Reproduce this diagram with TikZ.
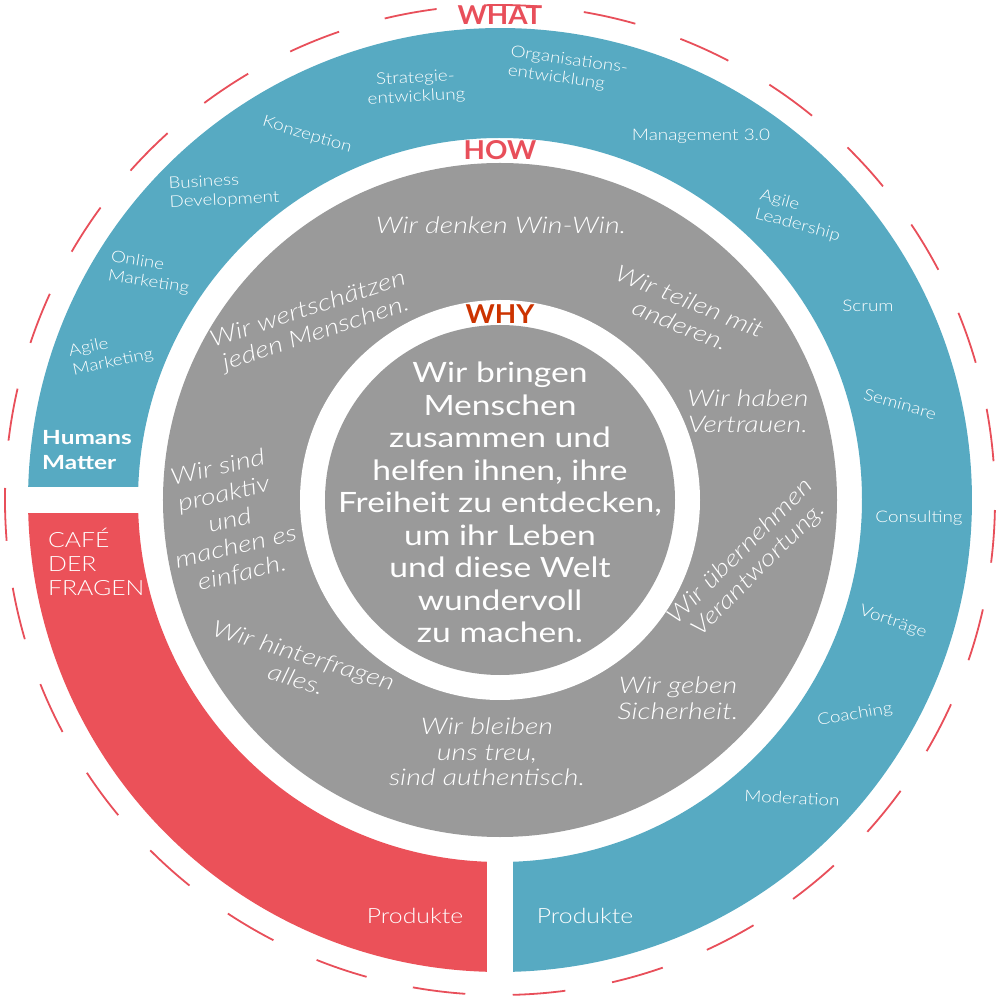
\documentclass[tikz,border=0pt]{standalone}
\usepackage{fontspec}
\setmainfont{Lato}
\newfontfamily\lightf{Lato Light}[FakeStretch=1.18]
\newfontfamily\grayf{Lato Light Italic}[FakeStretch=1.24]
\newfontfamily\centerf{Lato}[FakeStretch=1.2]
\newfontfamily\humansf{Lato Bold}[FakeStretch=1.25]
\newfontfamily\headf{Lato Bold}[FakeStretch=1.07]
\definecolor{wblue}{HTML}{57AAC2}
\definecolor{wred}{HTML}{EB5159}
\definecolor{wgray}{HTML}{9A9A9A}
\definecolor{wlabel}{HTML}{E84F5A}
\definecolor{wwhy}{HTML}{CC3300}
\begin{document}
\begin{tikzpicture}[x=1pt,y=1pt,
  bluelbl/.style={text=white,font=\lightf\fontsize{16}{19}\selectfont,inner sep=0pt},
  graylbl/.style={text=white,font=\grayf\fontsize{23}{25.5}\selectfont,align=center,inner sep=0pt},
  headlbl/.style={font=\headf\fontsize{26}{26}\selectfont,inner sep=0pt,anchor=base},
  prodlbl/.style={text=white,font=\lightf\fontsize{21}{21}\selectfont,inner sep=0pt}]
\useasboundingbox (-500,-500) rectangle (500,500);
% rings
\fill[wblue] (-88.42:472) arc[start angle=-88.42, end angle=178.42, radius=472]
  -- (177.94:362) arc[start angle=177.94, end angle=-87.94, radius=362] -- cycle;
\fill[wred] (181.58:472) arc[start angle=181.58, end angle=268.42, radius=472]
  -- (267.94:362) arc[start angle=267.94, end angle=182.06, radius=362] -- cycle;
\fill[wgray] (0,0) circle (337);
\fill[white] (0,0) circle (200);
\fill[wgray] (0,0) circle (175);
\draw[wlabel, line width=1.8pt, dash pattern=on 52.8pt off 47.5pt, dash phase=61.5pt] (0,0) circle (495);
% headings
\node[headlbl,text=wlabel] (what) at (0,475) {WHAT};
\node[headlbl,text=wlabel] (how) at (0,340) {HOW};
\node[headlbl,text=wwhy] (why) at (0,176.7) {WHY};
% center
\node[text=white,font=\centerf\fontsize{28}{32.5}\selectfont,align=center,inner sep=0pt,anchor=north] (whytext) at (0,138)
  {Wir bringen\\Menschen\\zusammen und\\helfen ihnen, ihre\\Freiheit zu entdecken,\\um ihr Leben\\und diese Welt\\wundervoll\\zu machen.};
% blue ring labels
\node[bluelbl,align=left,rotate=12] (agmk) at (-389,147) {Agile\\Marketing};
\node[bluelbl,align=left,rotate=-9] (onmk) at (-350,227) {Online\\Marketing};
\node[bluelbl,align=left,rotate=3] (busdev) at (-276,309) {Business\\Development};
\node[bluelbl,rotate=-17] (konz) at (-193,365) {Konzeption};
\node[bluelbl,align=center,rotate=3] (strat) at (-84,412) {Strategie-\\entwicklung};
\node[bluelbl,align=left,rotate=-8] (orga) at (68,430) {Organisations-\\entwicklung};
\node[bluelbl] (mgmt) at (201,364) {Management 3.0};
\node[bluelbl,align=left,rotate=-15] (agld) at (300,284) {Agile\\Leadership};
\node[bluelbl] (scrum) at (368,194) {Scrum};
\node[bluelbl,rotate=-16] (semi) at (400,96) {Seminare};
\node[bluelbl] (cons) at (419,-18) {Consulting};
\node[bluelbl,rotate=-19] (vort) at (393,-122) {Vorträge};
\node[bluelbl,rotate=10] (coach) at (355,-215) {Coaching};
\node[bluelbl,rotate=-3] (mod) at (292,-298) {Moderation};
\node[prodlbl] (prodb) at (85,-416) {Produkte};
\node[prodlbl] (prodr) at (-85,-416) {Produkte};
\node[text=white,font=\humansf\fontsize{19.5}{25}\selectfont,align=left,inner sep=0pt,anchor=north west] (hm) at (-458,70) {Humans\\Matter};
\node[text=white,font=\lightf\fontsize{21}{24}\selectfont,align=left,inner sep=0pt,anchor=north west] (cafe) at (-452,-28) {CAFÉ\\DER\\FRAGEN};
% gray ring labels
\node[graylbl] (g1) at (1,275) {Wir denken Win-Win.};
\node[graylbl,rotate=-22] (g2) at (185,187) {Wir teilen mit\\anderen.};
\node[graylbl] (g3) at (248,89) {Wir haben\\Vertrauen.};
\node[graylbl,rotate=45] (g4) at (250,-61) {Wir übernehmen\\Verantwortung.};
\node[graylbl] (g5) at (178,-198) {Wir geben\\Sicherheit.};
\node[graylbl] (g6) at (-13,-252) {Wir bleiben\\uns treu,\\sind authentisch.};
\node[graylbl,rotate=-17] (g7) at (-200,-167) {Wir hinterfragen\\alles.};
\node[graylbl,rotate=13,font=\grayf\fontsize{23}{27}\selectfont] (g8) at (-270,-21) {Wir sind\\proaktiv\\und\\machen es\\einfach.};
\node[graylbl,rotate=18] (g9) at (-188,178) {Wir wertschätzen\\jeden Menschen.};
\end{tikzpicture}
\end{document}
